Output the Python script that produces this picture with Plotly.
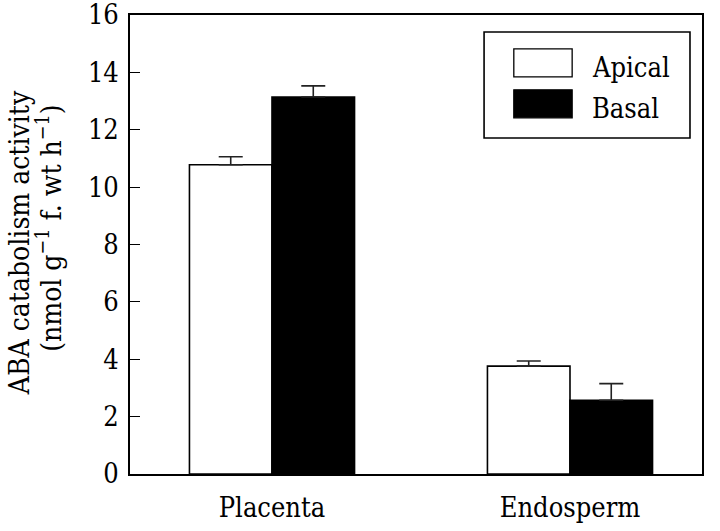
import plotly.graph_objects as go

categories = ["Placenta", "Endosperm"]
series_names = ["Apical", "Basal"]
apical_values = [10.78, 3.76]
apical_err = [0.28, 0.18]
basal_values = [13.14, 2.57]
basal_err = [0.39, 0.58]
y_ticks = [0, 2, 4, 6, 8, 10, 12, 14, 16]

FONT = "DejaVu Serif Condensed, DejaVu Serif, serif"
FS = 27
fills = ["white", "black"]

fig = go.Figure()
for name, vals, errs, fill in zip(series_names, [apical_values, basal_values],
                                  [apical_err, basal_err], fills):
    fig.add_trace(go.Bar(
        x=categories, y=vals, name=name,
        marker=dict(color=fill, line=dict(color="black", width=1.6)),
        error_y=dict(type="data", symmetric=False, array=errs,
                     arrayminus=[0] * len(errs), color="#222222",
                     thickness=1.6, width=12),
        showlegend=False,
    ))

fig.update_layout(
    width=720, height=531,
    margin=dict(l=130, r=18, t=15, b=57, autoexpand=False),
    paper_bgcolor="white", plot_bgcolor="white",
    barmode="group", bargap=0.446, bargroupgap=0,
    font=dict(family=FONT, size=FS, color="black"),
    xaxis=dict(type="category", range=[-0.4765, 1.443], showline=True,
               linecolor="black", linewidth=1.6, mirror=True, ticks="",
               showgrid=False, automargin=False, ticklabelstandoff=9,
               tickfont=dict(family=FONT, size=FS)),
    yaxis=dict(range=[0, 16], tickvals=y_ticks, showline=True,
               linecolor="black", linewidth=1.6, mirror=True,
               ticks="inside", ticklen=10, tickwidth=1.3, tickcolor="black",
               showgrid=False, zeroline=False, ticklabeloverflow="allow",
               automargin=False, ticklabelstandoff=4,
               tickfont=dict(family=FONT, size=FS)),
)

# y-axis title (two lines)
fig.add_annotation(x=-0.194, y=0.503, xref="paper", yref="paper",
                   text="ABA catabolism activity", textangle=-90,
                   showarrow=False, xanchor="center", yanchor="middle",
                   font=dict(family=FONT, size=28))
fig.add_annotation(x=-0.141, y=0.535, xref="paper", yref="paper",
                   text="(nmol g<sup>−1</sup> f. wt h<sup>−1</sup>)", textangle=-90,
                   showarrow=False, xanchor="center", yanchor="middle",
                   font=dict(family=FONT, size=28))

# custom legend
fig.add_shape(type="rect", xref="paper", yref="paper",
              x0=0.619, x1=0.979, y0=0.732, y1=0.963,
              line=dict(color="black", width=1.6), fillcolor="white")
sw_y = [(0.865, 0.926), (0.776, 0.837)]
for name, fill, (y0, y1) in zip(series_names, fills, sw_y):
    fig.add_shape(type="rect", xref="paper", yref="paper",
                  x0=0.671, x1=0.773, y0=y0, y1=y1,
                  line=dict(color="black", width=1.3), fillcolor=fill)
    fig.add_annotation(x=0.804, y=(y0 + y1) / 2 - 0.01, xref="paper", yref="paper",
                       text=name, showarrow=False, xanchor="left",
                       yanchor="middle", font=dict(family=FONT, size=FS))

fig.write_html("out.html", config={"displayModeBar": False},
               post_script="document.body.style.margin='0';")
